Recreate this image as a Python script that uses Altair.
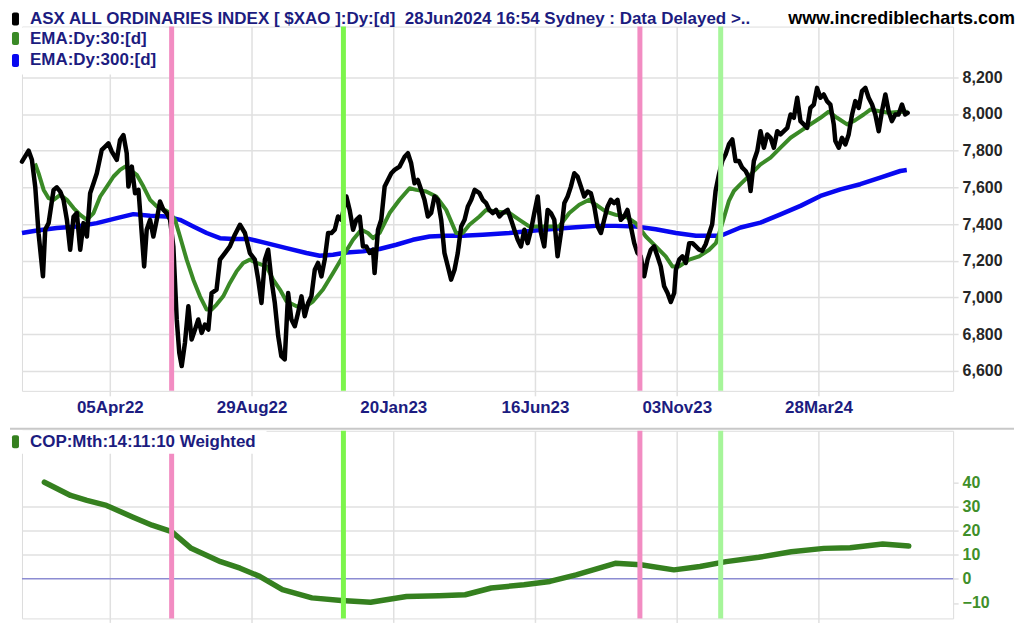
import json
import altair as alt
import pandas as pd

# ---------------- data ----------------
price_bar = [0, 4.7, 7, 9.4, 11.7, 14.8, 16.4, 18.8, 22.3, 24.6, 27, 29.3, 31.7, 34, 36.4, 38.7,
             41.1, 43.4, 45.8, 48.1, 50.5, 52.8, 56.3, 58.7, 61, 63.4, 66.9, 69.2, 71.6, 73.9, 75.1,
             77.5, 79.8, 82.2, 83.8, 86.2, 88, 90.4, 92.7, 95.1, 97.4, 99.8, 102.1, 104.5, 106.8,
             109.2, 111, 112.7, 115, 117.4, 119.7, 122.1, 124.4, 126.8, 129.1, 131.5, 133.8, 137.3,
             139.7, 143.2, 146.7, 150.2, 153.8, 157.3, 160.8, 164.3, 166.7, 169, 171.4, 173.7, 176,
             178.4, 180.8, 183, 185.4, 187.8, 190.1, 192.5, 194.8, 197.2, 199.5, 201.9, 204.2, 206.6,
             208.9, 211.3, 213.6, 216, 218.3, 220.7, 223, 225.4, 228.9, 231.2, 233.6, 235.9, 238.3,
             240.6, 243, 245.3, 247.7, 248.8, 251.2, 253.5, 255.9, 258.2, 260.6, 262.9, 266.4, 270,
             272.3, 274.6, 277, 279.3, 281.7, 284, 286.4, 288.7, 291.1, 293.4, 295.8, 298.1, 300.5,
             302.8, 305.2, 307.5, 309.9, 312.3, 314.6, 317, 319.4, 322.8, 325.1, 327.5, 329.8, 332.2,
             334.5, 336.9, 339.2, 342.7, 345.1, 347.4, 349.8, 352.1, 354.5, 356.8, 359.2, 361.5,
             363.9, 366.2, 368.5, 370.9, 373.2, 375.6, 377.9, 380.3, 382.7, 385, 387.3, 389.7, 392,
             394.4, 396.7, 399.1, 401.4, 403.8, 406.2, 408.5, 410.8, 413.2, 415.5, 417.8, 420.2,
             422.5, 424.9, 427.2, 429.6, 432, 434.3, 436.6, 439, 441.4, 443.7, 446, 448.4, 450.7,
             453.1, 455.5, 457.8, 460.2, 461.4, 463.7, 466, 468.4, 470.8, 473.1, 475.5, 477.8, 480,
             482.4, 484.7, 487, 489.4, 491.8, 494.1, 496.5, 498.8, 501.2, 503.5, 505.9, 508.2, 510.6,
             512.9, 514.1, 516.4, 518.8, 521.1, 523.5, 525.8, 528.2, 530.5, 532.9, 535.2, 537.6, 540,
             542.3, 544.6, 547, 549.3, 551.6, 554, 556.3, 558.7, 561, 563.4, 565.7, 568, 570.4, 572.8,
             573.9, 576.3, 578.6, 581, 583.3, 585.7, 588, 590.4, 592.7, 595.1, 597.4, 599.8, 602.1,
             604.5, 606.8, 609.2, 611.5, 613.8, 616.2, 618.5, 620.9, 623.2, 624.9]
price_val = [7740, 7800, 7750, 7600, 7350, 7115, 7370, 7405, 7586, 7600, 7577, 7532, 7423, 7260, 7440,
             7460, 7260, 7405, 7332, 7568, 7622, 7677, 7804, 7822, 7840, 7795, 7750, 7858, 7885, 7786,
             7604, 7713, 7568, 7586, 7423, 7169, 7369, 7423, 7332, 7423, 7523, 7477, 7460, 7423, 7278,
             6880, 6698, 6626, 6753, 6952, 6771, 6825, 6880, 6807, 6852, 6825, 7024, 7043, 7206, 7242,
             7278, 7342, 7396, 7351, 7242, 7206, 7097, 6970, 7206, 7260, 7097, 6970, 6789, 6680, 6662,
             7024, 6880, 6843, 6916, 7006, 6898, 6970, 7006, 7151, 7188, 7115, 7206, 7351, 7351, 7369,
             7441, 7423, 7550, 7477, 7369, 7423, 7441, 7278, 7278, 7242, 7260, 7133, 7369, 7423, 7604,
             7640, 7677, 7695, 7713, 7767, 7786, 7731, 7622, 7640, 7586, 7532, 7441, 7460, 7550, 7532,
             7423, 7242, 7169, 7097, 7151, 7242, 7387, 7423, 7496, 7532, 7586, 7568, 7532, 7514, 7477,
             7460, 7477, 7441, 7460, 7477, 7423, 7369, 7314, 7278, 7369, 7296, 7369, 7460, 7550, 7351,
             7278, 7477, 7460, 7423, 7224, 7351, 7514, 7550, 7604, 7677, 7659, 7604, 7550, 7577, 7568,
             7496, 7387, 7351, 7423, 7496, 7532, 7514, 7532, 7423, 7441, 7477, 7387, 7296, 7242, 7224,
             7115, 7206, 7260, 7278, 7224, 7169, 7061, 7024, 6975, 7024, 7151, 7206, 7224, 7188, 7296,
             7296, 7278, 7260, 7254, 7290, 7345, 7399, 7580, 7671, 7743, 7780, 7834, 7861, 7743, 7743,
             7707, 7689, 7653, 7580, 7743, 7798, 7906, 7816, 7888, 7870, 7816, 7906, 7888, 7906, 7924,
             7997, 7979, 8088, 7961, 7943, 7924, 8033, 8051, 8142, 8088, 8106, 8070, 8051, 7943, 7852,
             7816, 7870, 7834, 7888, 7997, 8070, 8033, 8124, 8142, 8088, 8051, 7997, 7906, 8015, 8106,
             8015, 7961, 7997, 7997, 8051, 7997, 8006]

ema30_bar = [9.2, 11.7, 15.3, 18.8, 22.3, 27, 31.7, 36.4, 41.1, 45.8, 50.5, 55.2, 59.9, 64.6, 69.2,
             72.8, 76.3, 81, 85.7, 90.4, 95.1, 99.8, 104.5, 108, 111.5, 116.2, 120.9, 125.6, 130.3,
             133.8, 137.3, 142, 146.7, 151.4, 156.1, 160.8, 165.5, 172.5, 177.2, 182, 186.6, 193.7,
             200.7, 205.4, 212.4, 219.5, 226.5, 233.6, 239.4, 244.1, 247.7, 252.3, 259.4, 266.4,
             273.5, 278.2, 285.2, 292.3, 299.3, 306.3, 311, 315.7, 322.8, 327.5, 334.5, 343.9, 351,
             357.9, 365, 372, 379, 386.2, 393.2, 400.2, 405, 412, 419, 426, 433.1, 440.2, 447.2, 454.2,
             458.9, 463.7, 470.8, 477.8, 484.9, 489.6, 491.8, 495.3, 498.8, 502.3, 507, 514.1, 521.1,
             528.2, 535.2, 542.3, 549.3, 556.3, 563.4, 569.2, 575.1, 582.2, 586.9, 593.9, 598.6, 605,
             611.5, 618, 624.9]
ema30_val = [7730, 7677, 7586, 7541, 7532, 7559, 7532, 7487, 7450, 7423, 7460, 7550, 7604, 7659, 7695,
             7713, 7695, 7668, 7604, 7532, 7496, 7481, 7460, 7423, 7332, 7206, 7097, 7006, 6934, 6934,
             6961, 7006, 7079, 7142, 7188, 7206, 7188, 7169, 7097, 7043, 6979, 6952, 6952, 6979, 7043,
             7133, 7224, 7314, 7369, 7351, 7323, 7351, 7460, 7532, 7595, 7586, 7577, 7550, 7477, 7351,
             7351, 7396, 7441, 7477, 7468, 7460, 7423, 7387, 7387, 7387, 7387, 7460, 7505, 7532, 7505,
             7468, 7450, 7441, 7405, 7332, 7278, 7224, 7169, 7169, 7206, 7224, 7260, 7296, 7345, 7435,
             7526, 7580, 7617, 7671, 7725, 7762, 7816, 7870, 7906, 7943, 7979, 8012, 7979, 7943, 7961,
             7997, 8024, 8015, 8006, 8010, 8012]

ema300_bar = [0, 10.6, 24.6, 38.7, 52.8, 66.9, 78.6, 90.4, 102.1, 111.5, 120.9, 130.3, 139.7, 149.1,
              160.8, 172.5, 186.6, 200.7, 210.1, 219.5, 228.9, 240.6, 252.3, 264.1, 275.8, 287.6,
              299.3, 311, 325.1, 343.9, 367.4, 390.8, 405, 419, 433.1, 447.2, 461.4, 475.5, 493, 507,
              521.1, 535.2, 549.3, 563.4, 577.5, 591.5, 605.6, 619.7, 624.3]
ema300_val = [7351, 7365, 7378, 7387, 7405, 7432, 7454, 7445, 7441, 7423, 7387, 7351, 7323, 7318, 7318,
              7296, 7269, 7242, 7227, 7233, 7245, 7251, 7264, 7287, 7314, 7332, 7336, 7336, 7342, 7351,
              7369, 7383, 7390, 7390, 7387, 7372, 7351, 7336, 7336, 7381, 7408, 7453, 7499, 7553, 7589,
              7617, 7653, 7689, 7694]

cop_bar = [15.8, 22.8, 34.3, 45.8, 59.6, 78, 91.8, 105.6, 119.4, 140.1, 153.9, 167.7, 183.8, 204.6,
           225.3, 246, 271.3, 294.3, 312.7, 331.1, 354.2, 372.5, 391, 418.6, 436.6, 460, 478.4, 496.8,
           519.9, 542.8, 565.8, 584.3, 607.3, 625.7]
cop_val = [40, 37.9, 34.5, 32.5, 30.4, 25.6, 22.2, 19.5, 12.6, 7.1, 4.4, 1, -4.5, -7.9, -9, -9.7, -7.3,
           -7, -6.6, -3.8, -2.5, -1.1, 1.6, 6.4, 5.8, 3.7, 5.1, 7.1, 8.9, 11.2, 12.6, 12.9, 14.4, 13.6]

tick_bars = [62, 162, 262, 362, 462, 562]
tick_labels = ["05Apr22", "29Aug22", "20Jan23", "16Jun23", "03Nov23", "28Mar24"]
price_ticks = [6600, 6800, 7000, 7200, 7400, 7600, 7800, 8000, 8200]
cop_ticks = [-10, 0, 10, 20, 30, 40]
marker_bar = [105.6, 226.8, 436, 493]
marker_color = ["#f28cc2", "#7cf54c", "#f28cc2", "#a6f59a"]
zero_line = [0]

TITLE = "ASX ALL ORDINARIES INDEX [ $XAO ]:Dy:[d]\u00a0 28Jun2024 16:54 Sydney : Data Delayed >.."
EMA30 = "EMA:Dy:30:[d]"
EMA300 = "EMA:Dy:300:[d]"
COP = "COP:Mth:14:11:10 Weighted"
SITE = "www.incrediblecharts.com"

# ---------------- styling ----------------
FONT = "Liberation Sans"
NAVY = "#1c1c80"
GREEN = "#3a8a26"
COPGREEN = "#35801f"
BLUE = "#0808f0"
GRID = "#e0e0e0"
W = 933
H_TOP = 365
H_BOT = 188

top_legend_labels = [TITLE, EMA30, EMA300]
top_legend_colors = ["#000000", GREEN, BLUE]
top_legend_rows = [-7.5, 12, 34]        # row centres, px from top of the price panel
bot_legend_labels = [COP]
bot_legend_colors = [COPGREEN]
bot_legend_rows = [11]

xscale = alt.Scale(domain=[0, 657], nice=False, zero=False)
yscale_top = alt.Scale(domain=[6491, 8476], nice=False, zero=False)
yscale_bot = alt.Scale(domain=[-16.4, 61.3], nice=False, zero=False)

label_expr = f"{json.dumps(tick_labels)}[indexof({json.dumps(tick_bars)}, datum.value)]"

x_axis_top = alt.Axis(values=tick_bars, labelExpr=label_expr, grid=True, gridColor=GRID, gridWidth=1.5,
                      tickColor=GRID, tickWidth=1.5, tickSize=5, domain=False, title=None,
                      labelFont=FONT, labelFontSize=17, labelFontWeight="bold", labelColor=NAVY,
                      labelPadding=4, labelFlush=False)
y_axis_top = alt.Axis(orient="right", values=price_ticks, format=",d", grid=True, gridColor=GRID,
                      gridWidth=1.5, tickColor=GRID, tickWidth=1.5, tickSize=5, domain=False, title=None,
                      labelFont=FONT, labelFontSize=16, labelFontWeight="bold", labelColor="#262626",
                      labelPadding=4)
x_axis_bot = alt.Axis(values=tick_bars, labels=False, grid=True, gridColor=GRID, gridWidth=1.5,
                      tickColor=GRID, tickWidth=1.5, tickSize=4, domain=False, title=None)
y_axis_bot = alt.Axis(orient="right", values=cop_ticks, grid=True, gridColor=GRID, gridWidth=1.5,
                      gridOpacity={"condition": {"test": "datum.value >= 10 && datum.value <= 30", "value": 1},
                                   "value": 0},
                      tickColor=GRID, tickWidth=1.5, tickSize=5, domain=False, title=None,
                      labelFont=FONT, labelFontSize=16, labelFontWeight="bold", labelColor="#3f8f2a",
                      labelPadding=4)


def legend_rows(labels, colors, rows):
    out = []
    for lab, col, cy in zip(labels, colors, rows):
        out.append(alt.Chart(pd.DataFrame({"c": [col]})).mark_rect(cornerRadius=2, color=col).encode(
            x=alt.value(-10), x2=alt.value(-3), y=alt.value(cy - 6.5), y2=alt.value(cy + 6.5)))
        out.append(alt.Chart(pd.DataFrame({"t": [lab]})).mark_text(
            align="left", baseline="middle", font=FONT, fontSize=17, fontWeight="bold", color=NAVY
        ).encode(x=alt.value(8), y=alt.value(cy), text="t:N"))
    return out


def cover(x1, x2, y1, y2):
    return alt.Chart(pd.DataFrame({"c": [0]})).mark_rect(color="white").encode(
        x=alt.value(x1), x2=alt.value(x2), y=alt.value(y1), y2=alt.value(y2))


# ---------------- top panel ----------------
X_top = alt.X("bar:Q", scale=xscale, axis=x_axis_top)
Y_top = alt.Y("value:Q", scale=yscale_top, axis=y_axis_top)

ema300_layer = alt.Chart(pd.DataFrame({"bar": ema300_bar, "value": ema300_val})).mark_line(
    strokeWidth=4.5, strokeJoin="round", color=BLUE).encode(x=X_top, y=Y_top)
ema30_layer = alt.Chart(pd.DataFrame({"bar": ema30_bar, "value": ema30_val})).mark_line(
    strokeWidth=4, strokeJoin="round", color=GREEN).encode(x=X_top, y=Y_top)
price_layer = alt.Chart(pd.DataFrame({"bar": price_bar, "value": price_val})).mark_line(
    strokeWidth=4.5, strokeJoin="round", strokeCap="round", color="#000000").encode(x=X_top, y=Y_top)

top_markers = [
    alt.Chart(pd.DataFrame({"bar": [b]})).mark_rule(color=c, strokeWidth=5).encode(x=X_top)
    for b, c in zip(marker_bar, marker_color)
]
site_text = alt.Chart(pd.DataFrame({"t": [SITE]})).mark_text(
    align="right", baseline="middle", font=FONT, fontSize=18, fontWeight="bold", color="#000000"
).encode(x=alt.value(995), y=alt.value(-7.5), text="t:N")

top = alt.layer(
    ema300_layer, ema30_layer, price_layer, *top_markers,
    cover(-12, 144, 1, 48),
    *legend_rows(top_legend_labels, top_legend_colors, top_legend_rows),
    site_text,
).properties(width=W, height=H_TOP)

# ---------------- bottom panel ----------------
X_bot = alt.X("bar:Q", scale=xscale, axis=x_axis_bot)
Y_bot = alt.Y("value:Q", scale=yscale_bot, axis=y_axis_bot)

separator = alt.Chart(pd.DataFrame({"s": [0]})).mark_rule(color="#c8c8c8", strokeWidth=2).encode(
    x=alt.value(-12), x2=alt.value(994), y=alt.value(-2))
zero_rule = alt.Chart(pd.DataFrame({"value": zero_line})).mark_rule(
    color="#8c8cd2", strokeWidth=1.5).encode(y=Y_bot)
cop_layer = alt.Chart(pd.DataFrame({"bar": cop_bar, "value": cop_val})).mark_line(
    strokeWidth=5.5, strokeJoin="round", strokeCap="round", color=COPGREEN).encode(x=X_bot, y=Y_bot)
bot_markers = [
    alt.Chart(pd.DataFrame({"bar": [b]})).mark_rule(color=c, strokeWidth=5).encode(x=X_bot)
    for b, c in zip(marker_bar, marker_color)
]
bottom = alt.layer(
    zero_rule, cop_layer, *bot_markers,
    cover(-12, 245, 0, 23),
    separator,
    *legend_rows(bot_legend_labels, bot_legend_colors, bot_legend_rows),
).properties(width=W, height=H_BOT)

chart = alt.vconcat(top, bottom, spacing=40, bounds="flush").properties(
    padding={"left": 0, "top": 1, "right": 0, "bottom": 0}
).configure_view(stroke="#d4d4d4", strokeWidth=1.5).configure(background="white")

chart.save("out.html", embed_options={"renderer": "svg", "actions": False})
